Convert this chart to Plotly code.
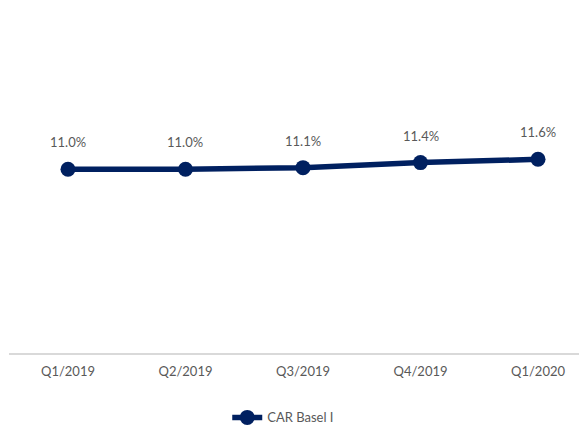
import plotly.graph_objects as go

# Datos
quarters = ['Q1/2019', 'Q2/2019', 'Q3/2019', 'Q4/2019', 'Q1/2020']
car_basel_i = [11.0, 11.0, 11.1, 11.4, 11.6]
labels = ['11.0%', '11.0%', '11.1%', '11.4%', '11.6%']

navy = '#002060'
gray = '#595959'

fig = go.Figure()

fig.add_trace(go.Scatter(
    x=quarters,
    y=car_basel_i,
    mode='lines+markers',
    name='CAR Basel I',
    line=dict(color=navy, width=5.5),
    marker=dict(color=navy, size=15)
))

# Etiquetas de datos
for q, v, t in zip(quarters, car_basel_i, labels):
    fig.add_annotation(x=q, y=v, text=t, showarrow=False, yshift=27,
                       font=dict(size=13, color=gray))

fig.update_layout(
    width=587,
    height=426,
    margin=dict(l=1, r=0, t=11, b=81),
    paper_bgcolor='white',
    plot_bgcolor='white',
    font=dict(family='Lato, Open Sans, sans-serif', size=13, color=gray),
    showlegend=True,
    legend=dict(orientation='h', x=0.468, xanchor='center', y=-0.148, yanchor='top',
                font=dict(size=13, color=gray)),
    xaxis=dict(range=[-0.502, 4.485], showgrid=False, zeroline=False,
               showline=True, linecolor='#d9d9d9', linewidth=2,
               ticks='', tickfont=dict(size=13, color=gray), ticklabelstandoff=5),
    yaxis=dict(range=[0, 20], visible=False, showgrid=False, zeroline=False)
)

fig.write_html('out.html')
